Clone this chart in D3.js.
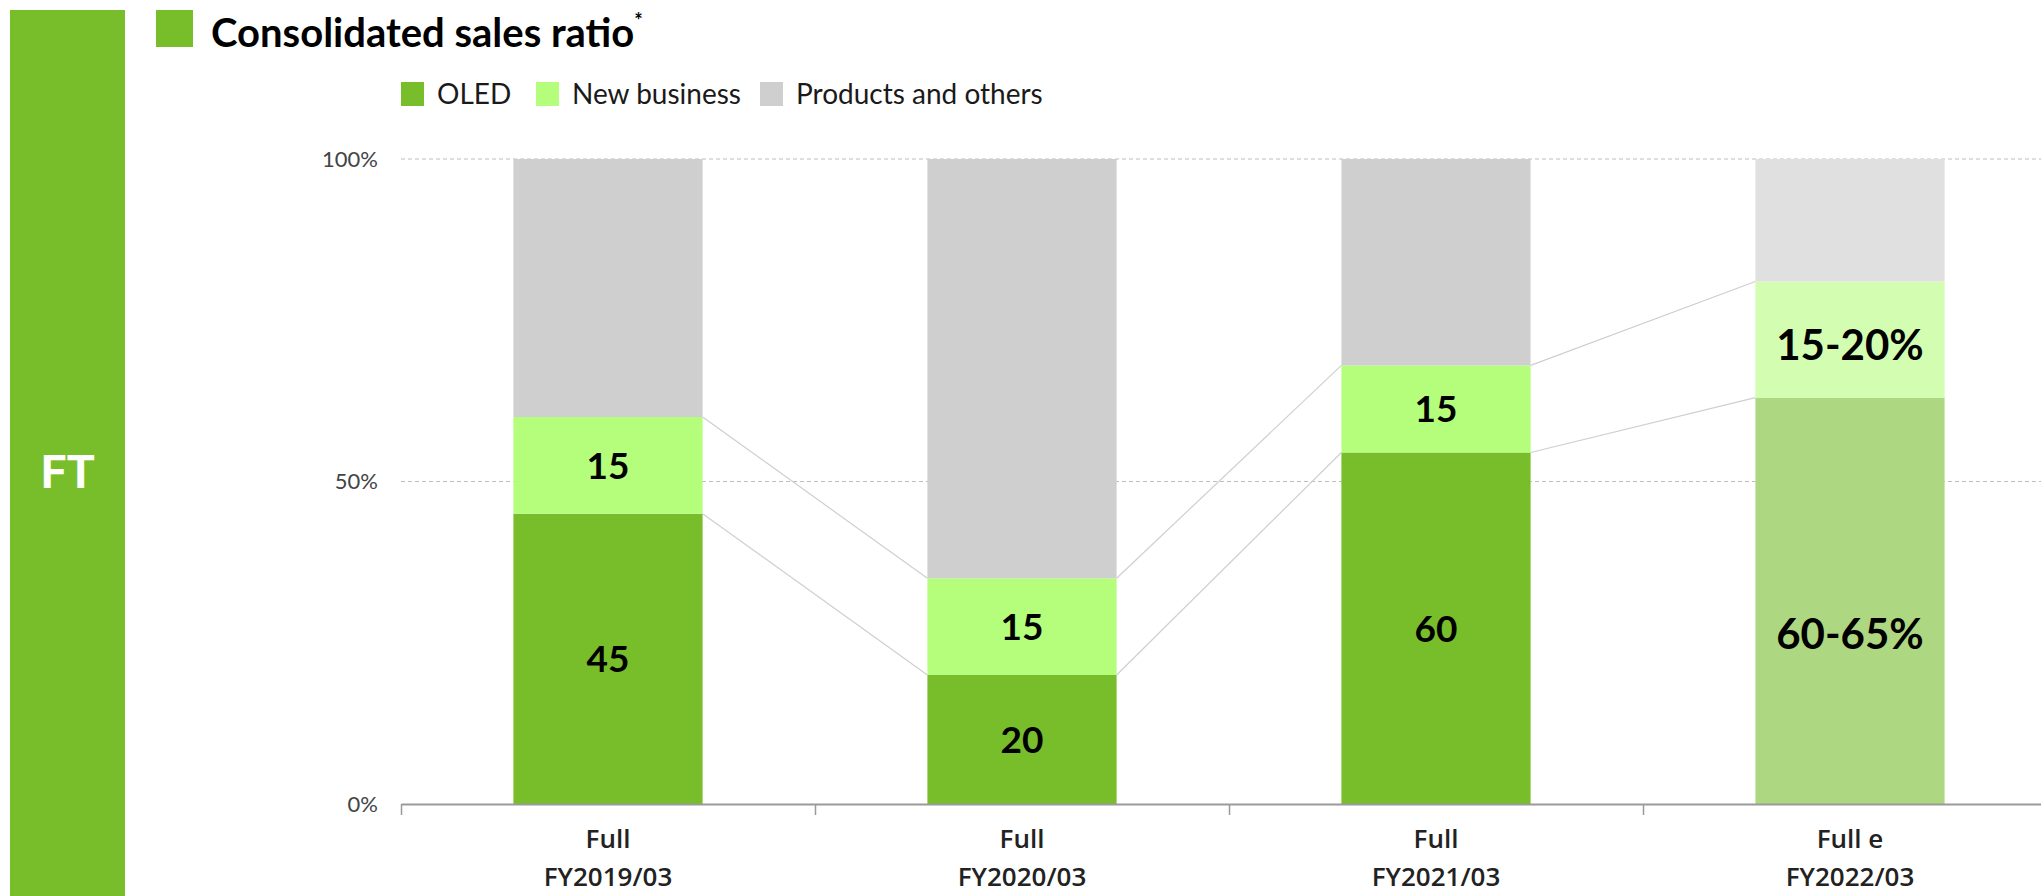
<!DOCTYPE html>
<html>
<head>
<meta charset="utf-8">
<script src="https://cdn.jsdelivr.net/npm/d3@7"></script>
<style>
  html, body { margin: 0; padding: 0; background: #fff; }
  svg { display: block; }
</style>
</head>
<body>
<svg id="chart" width="2041" height="896"></svg>
<script>
// ---------------- data ----------------
const categories = ["FY2019/03", "FY2020/03", "FY2021/03", "FY2022/03"];
const periodLabels = ["Full", "Full", "Full", "Full e"];
const seriesNames = ["OLED", "New business", "Products and others"];
const oled = [45, 20, 54.5, 63];
const newBusiness = [15, 15, 13.5, 18];
const products = [40, 65, 32, 19];
const oledLabels = ["45", "20", "60", "60-65%"];
const newLabels = ["15", "15", "15", "15-20%"];
const yTicks = [0, 50, 100];
const estimateIndex = 3;

// ---------------- styles ----------------
const colors = ["#78be2b", "#b4fe7c", "#d0cfd0"];
const colorsEst = ["#add881", "#d3fdb1", "#e0e0e0"];
const W = 2041, H = 896;
const svg = d3.select("#chart");

// sidebar
svg.append("rect").attr("x", 10).attr("y", 10).attr("width", 115).attr("height", H - 10).attr("fill", "#78be2b");
svg.append("text").attr("x", 68).attr("y", 488).attr("text-anchor", "middle")
  .attr("font-family", "Roboto, 'Open Sans', sans-serif").attr("font-weight", 700)
  .attr("font-size", 46).attr("fill", "#fff").text("FT");

// title
svg.append("rect").attr("x", 156).attr("y", 10).attr("width", 37).attr("height", 37).attr("fill", "#78be2b");
const title = svg.append("text").attr("x", 211).attr("y", 47)
  .attr("font-family", "Lato, 'Open Sans', sans-serif").attr("font-weight", 700)
  .attr("font-size", 40).attr("fill", "#000");
title.append("tspan").text("Consolidated sales ratio");
title.append("tspan").attr("font-size", 20).attr("dy", -19).text("*");

// legend
const legendX = [401, 536, 760];
seriesNames.forEach((name, i) => {
  svg.append("rect").attr("x", legendX[i]).attr("y", 82).attr("width", 23).attr("height", 24).attr("fill", colors[i]);
  svg.append("text").attr("x", legendX[i] + 36).attr("y", 104)
    .attr("font-family", "Lato, 'Open Sans', sans-serif").attr("font-size", 28)
    .attr("fill", "#1a1a1a").text(name);
});

// scales
const y = d3.scaleLinear().domain([0, 100]).range([804, 159]);
const x = d3.scaleBand().domain(categories).range([401, 2057]).paddingInner(0).paddingOuter(0);
const xTick = d3.scaleLinear().domain([0, categories.length]).range([401, 2057]);
const bw = x.step() * 0.457;
const barX = d => x(d) + (x.step() - bw) / 2;

// gridlines
svg.append("g").selectAll("line").data(yTicks.filter(t => t > 0)).join("line")
  .attr("x1", 401).attr("x2", W).attr("y1", d => y(d)).attr("y2", d => y(d))
  .attr("stroke", "#bdbdbd").attr("stroke-width", 1.2).attr("stroke-dasharray", "4,3");

// y axis labels
const yAxis = svg.append("g").attr("transform", "translate(401,0)")
  .call(d3.axisLeft(y).tickValues(yTicks).tickFormat(d => d + "%").tickSize(0).tickPadding(23));
yAxis.select(".domain").remove();
yAxis.selectAll("text").attr("font-family", "Lato, 'Open Sans', sans-serif").attr("font-size", 22).attr("fill", "#444");

// stacked bars
const rows = categories.map((c, i) => ({ cat: c, OLED: oled[i], "New business": newBusiness[i], "Products and others": products[i] }));
const stack = d3.stack().keys(seriesNames)(rows);
stack.forEach((layer, si) => {
  svg.append("g").selectAll("rect").data(layer).join("rect")
    .attr("x", d => barX(d.data.cat))
    .attr("width", bw)
    .attr("y", d => y(d[1]))
    .attr("height", d => y(d[0]) - y(d[1]))
    .attr("fill", (d, i) => i === estimateIndex ? colorsEst[si] : colors[si]);
});

// connector lines
const conn = svg.append("g");
[0, 1].forEach(si => {
  const layer = stack[si];
  for (let i = 0; i < categories.length - 1; i++) {
    conn.append("line")
      .attr("x1", barX(categories[i]) + bw).attr("y1", y(layer[i][1]))
      .attr("x2", barX(categories[i + 1])).attr("y2", y(layer[i + 1][1]))
      .attr("stroke", "#cfcfcf").attr("stroke-width", 1.2);
  }
});

// value labels
const labelSets = [oledLabels, newLabels];
[0, 1].forEach(si => {
  const layer = stack[si];
  svg.append("g").selectAll("text").data(layer).join("text")
    .attr("x", d => barX(d.data.cat) + bw / 2)
    .attr("y", (d, i) => {
      let yy = y((d[0] + d[1]) / 2);
      if (i === estimateIndex) yy += (si === 0 ? 33 : 5);
      return yy;
    })
    .attr("dy", "0.36em")
    .attr("text-anchor", "middle")
    .attr("font-family", "Lato, 'Open Sans', sans-serif").attr("font-weight", 700)
    .attr("font-size", (d, i) => i === estimateIndex ? 42 : 37)
    .attr("fill", "#000")
    .text((d, i) => labelSets[si][i]);
});

// x axis
const xAxis = svg.append("g").attr("transform", "translate(0,804)")
  .call(d3.axisBottom(xTick).tickValues(d3.range(categories.length)).tickSize(11).tickSizeOuter(0).tickFormat(""));
xAxis.select(".domain").attr("stroke", "#9a9a9a").attr("stroke-width", 2);
xAxis.selectAll(".tick line").attr("stroke", "#9a9a9a").attr("stroke-width", 1.5);

// x labels
const xl = svg.append("g");
categories.forEach((c, i) => {
  const cx = x(c) + x.step() / 2;
  xl.append("text").attr("x", cx).attr("y", 848).attr("text-anchor", "middle")
    .attr("font-family", "'Open Sans', Lato, sans-serif").attr("font-weight", 600)
    .attr("font-size", 26).attr("fill", "#222").text(periodLabels[i]);
  xl.append("text").attr("x", cx).attr("y", 886).attr("text-anchor", "middle")
    .attr("font-family", "'Open Sans', Lato, sans-serif").attr("font-weight", 600)
    .attr("font-size", 26).attr("fill", "#222").text(c);
});
</script>
</body>
</html>
